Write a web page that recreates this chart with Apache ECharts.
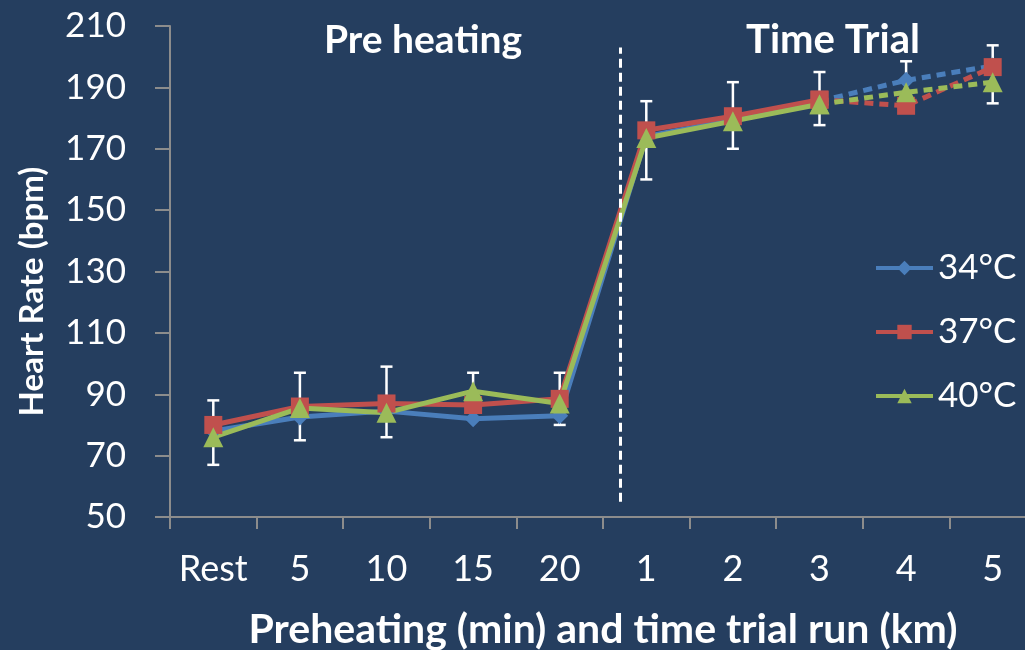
<!DOCTYPE html>
<html>
<head>
<meta charset="utf-8">
<script src="https://cdn.jsdelivr.net/npm/echarts@6/dist/echarts.min.js"></script>
<style>
  html, body { margin: 0; padding: 0; background: #253e5f; }
  #chart { width: 1025px; height: 650px; }
</style>
</head>
<body>
<div id="chart"></div>
<script>
const categories = ['Rest', '5', '10', '15', '20', '1', '2', '3', '4', '5'];
// heart rate means (bpm)
const hr34 = [78, 82.6, 84.5, 82, 83, 174, 179.5, 185.5, 192.3, 197];
const hr37 = [80, 86, 87, 86.5, 88.5, 176, 180.6, 186, 184, 196.6];
const hr40 = [76, 85.5, 84, 91, 87, 173.5, 179, 184.5, 188.4, 191.7];
// error bars (one set)
const errLow = [67, 75, 76, 82, 80, 160, 170, 177.7, 184, 184.8];
const errHigh = [88, 97, 99, 97, 97, 185.5, 191.7, 195, 198.5, 203.7];
const yTicks = { min: 50, max: 210, step: 20 };
const dividerX = 5.2; // phase divider, on a 0..10 scale

const BLUE = '#4a7ebb', RED = '#c0504d', GREEN = '#9bbb59';
const FONT = 'Lato';

const solidPart = arr => arr.map((v, i) => (i <= 7 ? v : null));
const dashPart = arr => arr.map((v, i) => (i >= 7 ? v : null));

function lineSeries(name, data, color, symbol, size, dashed) {
  return {
    name: name,
    type: 'line',
    data: dashed ? dashPart(data) : solidPart(data),
    symbol: symbol,
    symbolSize: size,
    showAllSymbol: true,
    color: color,
    itemStyle: { color: color },
    lineStyle: { color: color, width: 5, type: dashed ? [9, 6] : 'solid' },
    z: 3
  };
}

const chart = echarts.init(document.getElementById('chart'));
chart.setOption({
  backgroundColor: '#253e5f',
  animation: false,
  grid: { left: 170, top: 26, width: 866, height: 491, outerBoundsMode: 'none', containLabel: false },
  legend: {
    orient: 'vertical',
    left: 869,
    top: 243,
    itemWidth: 57,
    itemHeight: 18,
    itemGap: 24,
    data: ['34°C', '37°C', '40°C'],
    lineStyle: { width: 4 },
    textStyle: { color: '#fff', fontSize: 35, fontFamily: FONT, lineHeight: 40 }
  },
  graphic: [
    { type: 'text', x: 423, y: 40, style: { text: 'Pre heating', fill: '#fff', font: 'bold 39px ' + FONT, align: 'center', verticalAlign: 'middle' } },
    { type: 'text', x: 833, y: 40, style: { text: 'Time Trial', fill: '#fff', font: 'bold 40px ' + FONT, align: 'center', verticalAlign: 'middle' } }
  ],
  xAxis: [
    {
      type: 'category',
      data: categories,
      boundaryGap: true,
      name: 'Preheating (min) and time trial run (km)',
      nameLocation: 'middle',
      nameGap: 113,
      nameTextStyle: { color: '#fff', fontSize: 41, fontWeight: 'bold', fontFamily: FONT, verticalAlign: 'middle' },
      axisLine: { lineStyle: { color: '#8c8c8c', width: 2 } },
      axisTick: { show: true, interval: 0, length: 12, lineStyle: { color: '#8c8c8c', width: 2 } },
      axisLabel: { color: '#fff', fontSize: 36, fontFamily: FONT, margin: 34, interval: 0 },
      splitLine: { show: false }
    },
    { type: 'value', min: 0, max: 10, show: false }
  ],
  yAxis: {
    type: 'value',
    min: yTicks.min,
    max: yTicks.max,
    interval: yTicks.step,
    name: 'Heart Rate (bpm)',
    nameLocation: 'middle',
    nameRotate: 90,
    nameGap: 138,
    nameTextStyle: { color: '#fff', fontSize: 33, fontWeight: 'bold', fontFamily: FONT, verticalAlign: 'middle', padding: [0, 40, 0, 0] },
    axisLine: { show: true, lineStyle: { color: '#8c8c8c', width: 2 } },
    axisTick: { show: true, length: 15, lineStyle: { color: '#8c8c8c', width: 2 } },
    axisLabel: { color: '#fff', fontSize: 35, fontFamily: FONT, margin: 44 },
    splitLine: { show: false }
  },
  series: [
    {
      type: 'custom',
      name: 'error',
      data: categories.map((c, i) => [i, errLow[i], errHigh[i]]),
      renderItem: function (params, api) {
        const lo = api.coord([api.value(0), api.value(1)]);
        const hi = api.coord([api.value(0), api.value(2)]);
        const w = 6;
        const st = { stroke: '#fff', lineWidth: 2.5 };
        return {
          type: 'group',
          children: [
            { type: 'line', shape: { x1: lo[0], y1: lo[1], x2: hi[0], y2: hi[1] }, style: st },
            { type: 'line', shape: { x1: lo[0] - w, y1: lo[1], x2: lo[0] + w, y2: lo[1] }, style: st },
            { type: 'line', shape: { x1: hi[0] - w, y1: hi[1], x2: hi[0] + w, y2: hi[1] }, style: st }
          ]
        };
      },
      z: 2
    },
    lineSeries('34°C', hr34, BLUE, 'diamond', 17, false),
    lineSeries('37°C', hr37, RED, 'rect', 18, false),
    lineSeries('40°C', hr40, GREEN, 'triangle', 20, false),
    lineSeries('34°C', hr34, BLUE, 'diamond', 17, true),
    lineSeries('37°C', hr37, RED, 'rect', 18, true),
    lineSeries('40°C', hr40, GREEN, 'triangle', 20, true),
    {
      type: 'line',
      name: 'divider',
      xAxisIndex: 1,
      data: [],
      markLine: {
        silent: true,
        symbol: 'none',
        label: { show: false },
        lineStyle: { color: '#fff', width: 3, type: [9, 5] },
        data: [[{ coord: [dividerX, 55] }, { coord: [dividerX, 203] }]]
      }
    }
  ]
});
</script>
</body>
</html>
